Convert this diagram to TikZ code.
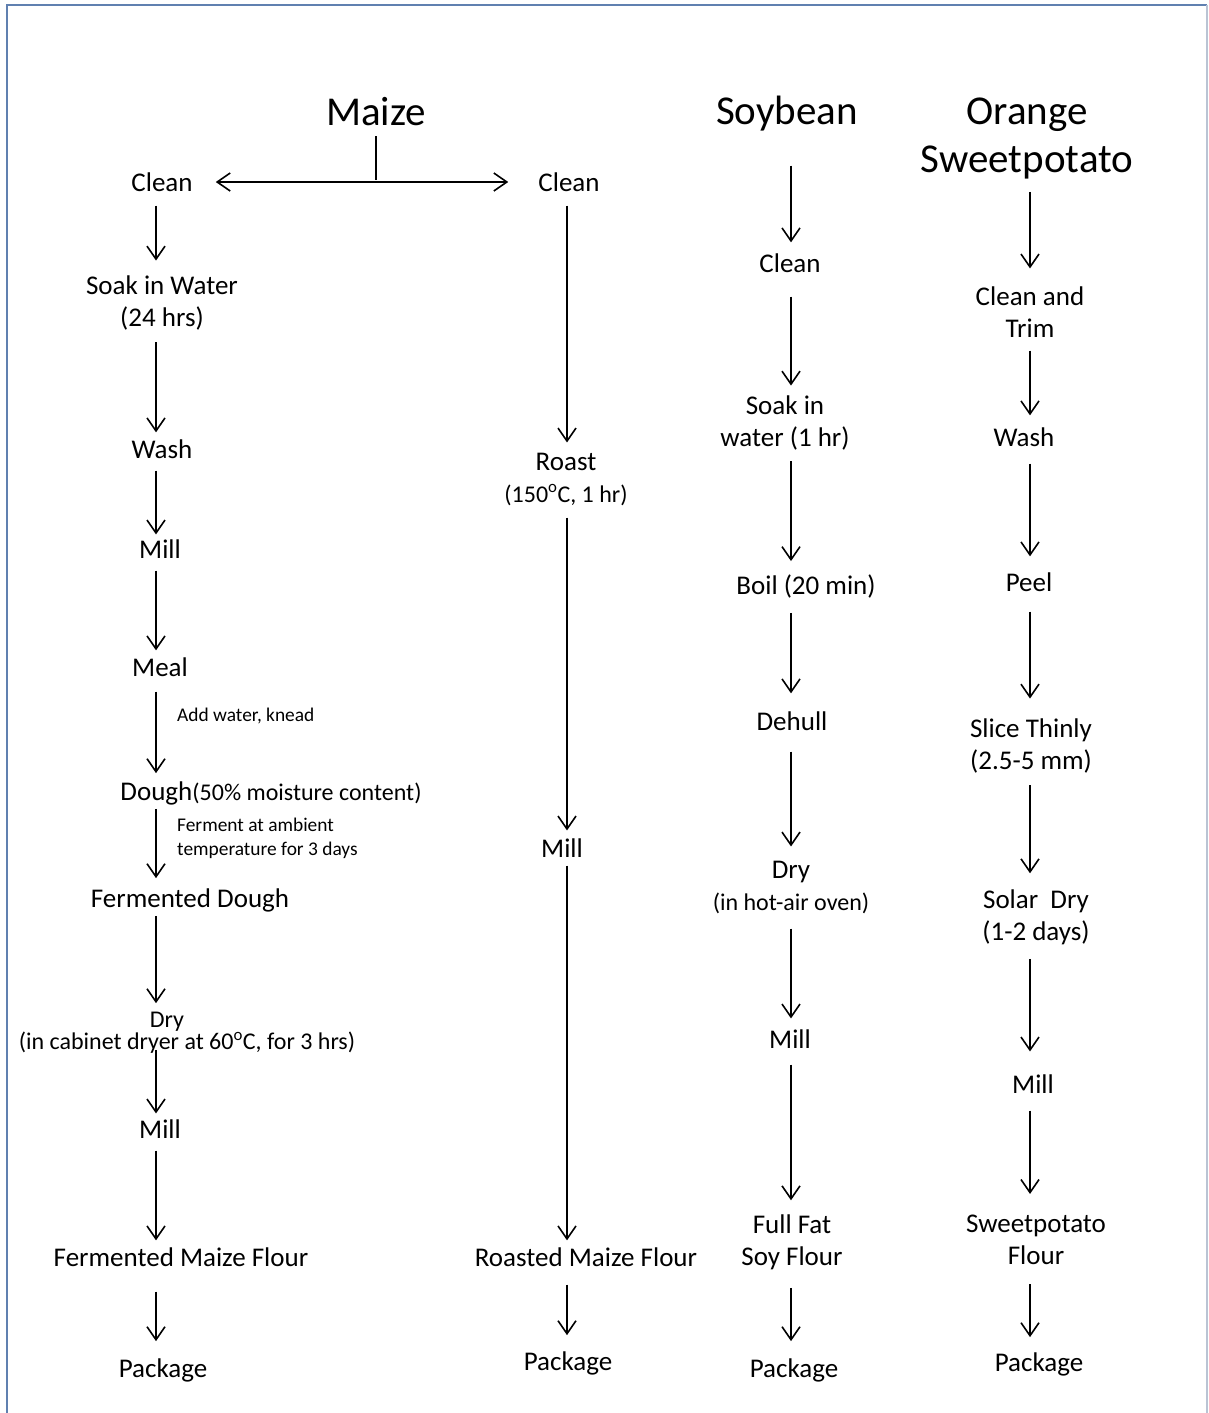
\documentclass[tikz,border=0pt]{standalone}
\usepackage{fontspec}
\setmainfont{Carlito}
\usetikzlibrary{arrows.meta,positioning}
\definecolor{framecol}{RGB}{96,128,176}
\definecolor{framelight}{RGB}{186,196,212}
\newcommand{\subtext}{\fontsize{24}{28}\selectfont}
\newcommand{\smalltext}{\fontsize{19.4}{24}\selectfont}

\begin{document}
\begin{tikzpicture}[x=1pt, y=-1pt,
    >={Straight Barb[length=13pt,width=18pt]},
    stage/.style={font=\fontsize{27}{32}\selectfont, align=center, inner sep=4pt},
    heading/.style={font=\fontsize{41}{48}\selectfont, align=center, inner sep=4pt},
    note/.style={font=\smalltext, align=left, anchor=west, inner sep=4pt},
    flow/.style={->, line width=1.6pt, shorten <=8pt, shorten >=6pt}
]
    \useasboundingbox (0,0) rectangle (1208,1413);

    % Frame
    \draw[framecol, line width=1.2pt] (7,1413) -- (7,5) -- (1207,5);
    \draw[framelight, line width=1.2pt] (1207,5) -- (1207,1413);

    % Headings
    \node[heading] (maize) at (376,112) {Maize};
    \node[heading] (soy) at (787,114) {Soybean};
    \node[heading] (osp) at (1027,138) {Orange\\Sweetpotato};

    % Column lines
    \coordinate (colA) at (156,0);
    \coordinate (colB) at (567,0);
    \coordinate (colC) at (791,0);
    \coordinate (colD) at (1030,0);

    % Fermented maize
    \node[stage] (cleanA) at (162,182) {Clean};
    \node[stage] (soakA) at (162,303) {Soak in Water\\(24 hrs)};
    \node[stage] (washA) at (162,449) {Wash};
    \node[stage] (millA1) at (160,549) {Mill};
    \node[stage] (mealA) at (160,667) {Meal};
    \node[stage] (doughA) at (271,793) {Dough{\subtext(50\% moisture content)}};
    \node[stage] (fdoughA) at (190,900) {Fermented Dough};
    \node[stage, font=\subtext] (dryA) at (167,1022) {Dry};
    \node[stage, font=\subtext] (drynoteA) at (187,1043) {(in cabinet dryer at 60\textsuperscript{o}C, for 3 hrs)};
    \node[stage] (millA2) at (160,1129) {Mill};
    \node[stage] (flourA) at (181,1257) {Fermented Maize Flour};
    \node[stage] (packA) at (163,1370) {Package};
    \node[note] (addA) at (173,716) {Add water, knead};
    \node[note] (fermA) at (173,838) {Ferment at ambient\\temperature for 3 days};

    % Roasted maize
    \node[stage] (cleanB) at (569,182) {Clean};
    \node[stage] (roastB) at (566,479) {Roast\\{\subtext(150\textsuperscript{o}C, 1 hr)}};
    \node[stage] (millB) at (562,848) {Mill};
    \node[stage] (flourB) at (586,1257) {Roasted Maize Flour};
    \node[stage] (packB) at (568,1363) {Package};

    % Soybean
    \node[stage] (cleanC) at (790,263) {Clean};
    \node[stage] (soakC) at (785,423) {Soak in\\water (1 hr)};
    \node[stage] (boilC) at (806,586) {Boil (20 min)};
    \node[stage] (dehullC) at (792,721) {Dehull};
    \node[stage] (dryC) at (791,887) {Dry\\{\subtext(in hot-air oven)}};
    \node[stage] (millC) at (790,1039) {Mill};
    \node[stage] (flourC) at (792,1242) {Full Fat\\Soy Flour};
    \node[stage] (packC) at (794,1370) {Package};

    % Orange sweetpotato
    \node[stage] (cleanD) at (1030,312) {Clean and\\Trim};
    \node[stage] (washD) at (1024,437) {Wash};
    \node[stage] (peelD) at (1029,582) {Peel};
    \node[stage] (sliceD) at (1031,746) {Slice Thinly\\(2.5-5 mm)};
    \node[stage] (solarD) at (1036,917) {Solar~~Dry\\(1-2 days)};
    \node[stage] (millD) at (1033,1084) {Mill};
    \node[stage] (flourD) at (1036,1240) {Sweetpotato\\Flour};
    \node[stage] (packD) at (1039,1364) {Package};

    % Maize split
    \coordinate (split) at (maize.south |- cleanA);
    \draw[line width=1.6pt, shorten <=6pt, shorten >=2pt] (maize.south) -- (split);
    \draw[flow, <->, shorten <=19pt, shorten >=26pt] (cleanA) -- (cleanB);

    % Arrows, fermented maize
    \draw[flow, shorten <=10pt, shorten >=11pt] (cleanA.south -| colA) -- (soakA.north -| colA);
    \draw[flow, shorten >=3pt] (soakA.south -| colA) -- (washA.north -| colA);
    \draw[flow, shorten >=1pt] (washA.south -| colA) -- (millA1.north -| colA);
    \draw[flow, shorten >=3pt] (millA1.south -| colA) -- (mealA.north -| colA);
    \draw[flow, shorten <=11pt, shorten >=4pt] (mealA.south -| colA) -- (doughA.north -| colA);
    \draw[flow, shorten <=0pt] (doughA.south -| colA) -- (fdoughA.north -| colA);
    \draw[flow, shorten <=0pt, shorten >=5pt] (fdoughA.south -| colA) -- (dryA.north -| colA);
    \draw[flow, shorten <=-8pt, shorten >=2pt] (drynoteA.south -| colA) -- (millA2.north -| colA);
    \draw[flow, shorten >=3pt] (millA2.south -| colA) -- (flourA.north -| colA);
    \draw[flow, shorten <=21pt, shorten >=13pt] (flourA.south -| colA) -- (packA.north -| colA);

    % Arrows, roasted maize
    \draw[flow, shorten <=10pt] (cleanB.south -| colB) -- (roastB.north -| colB);
    \draw[flow, shorten >=4pt] (roastB.south -| colB) -- (millB.north -| colB);
    \draw[flow, shorten <=4pt, shorten >=3pt] (millB.south -| colB) -- (flourB.north -| colB);
    \draw[flow, shorten <=14pt, shorten >=12pt] (flourB.south -| colB) -- (packB.north -| colB);

    % Arrows, soybean
    \draw[flow, shorten <=30pt, shorten >=7pt] (soy.south -| colC) -- (cleanC.north -| colC);
    \draw[flow, shorten <=20pt] (cleanC.south -| colC) -- (soakC.north -| colC);
    \draw[flow, shorten <=7pt, shorten >=9pt] (soakC.south -| colC) -- (boilC.north -| colC);
    \draw[flow, shorten <=11pt, shorten >=14pt] (boilC.south -| colC) -- (dehullC.north -| colC);
    \draw[flow, shorten <=17pt, shorten >=10pt] (dehullC.south -| colC) -- (dryC.north -| colC);
    \draw[flow, shorten <=11pt, shorten >=7pt] (dryC.south -| colC) -- (millC.north -| colC);
    \draw[flow, shorten <=12pt, shorten >=10pt] (millC.south -| colC) -- (flourC.north -| colC);
    \draw[flow, shorten <=14pt, shorten >=13pt] (flourC.south -| colC) -- (packC.north -| colC);

    % Arrows, orange sweetpotato
    \draw[flow, shorten <=9pt, shorten >=14pt] (osp.south -| colD) -- (cleanD.north -| colD);
    \draw[flow, shorten <=9pt, shorten >=8pt] (cleanD.south -| colD) -- (washD.north -| colD);
    \draw[flow, shorten <=13pt, shorten >=12pt] (washD.south -| colD) -- (peelD.north -| colD);
    \draw[flow, shorten <=16pt, shorten >=16pt] (peelD.south -| colD) -- (sliceD.north -| colD);
    \draw[flow, shorten <=8pt, shorten >=12pt] (sliceD.south -| colD) -- (solarD.north -| colD);
    \draw[flow, shorten <=10pt, shorten >=19pt] (solarD.south -| colD) -- (millD.north -| colD);
    \draw[flow, shorten <=13pt, shorten >=17pt] (millD.south -| colD) -- (flourD.north -| colD);
    \draw[flow, shorten <=15pt, shorten >=11pt] (flourD.south -| colD) -- (packD.north -| colD);
\end{tikzpicture}
\end{document}
